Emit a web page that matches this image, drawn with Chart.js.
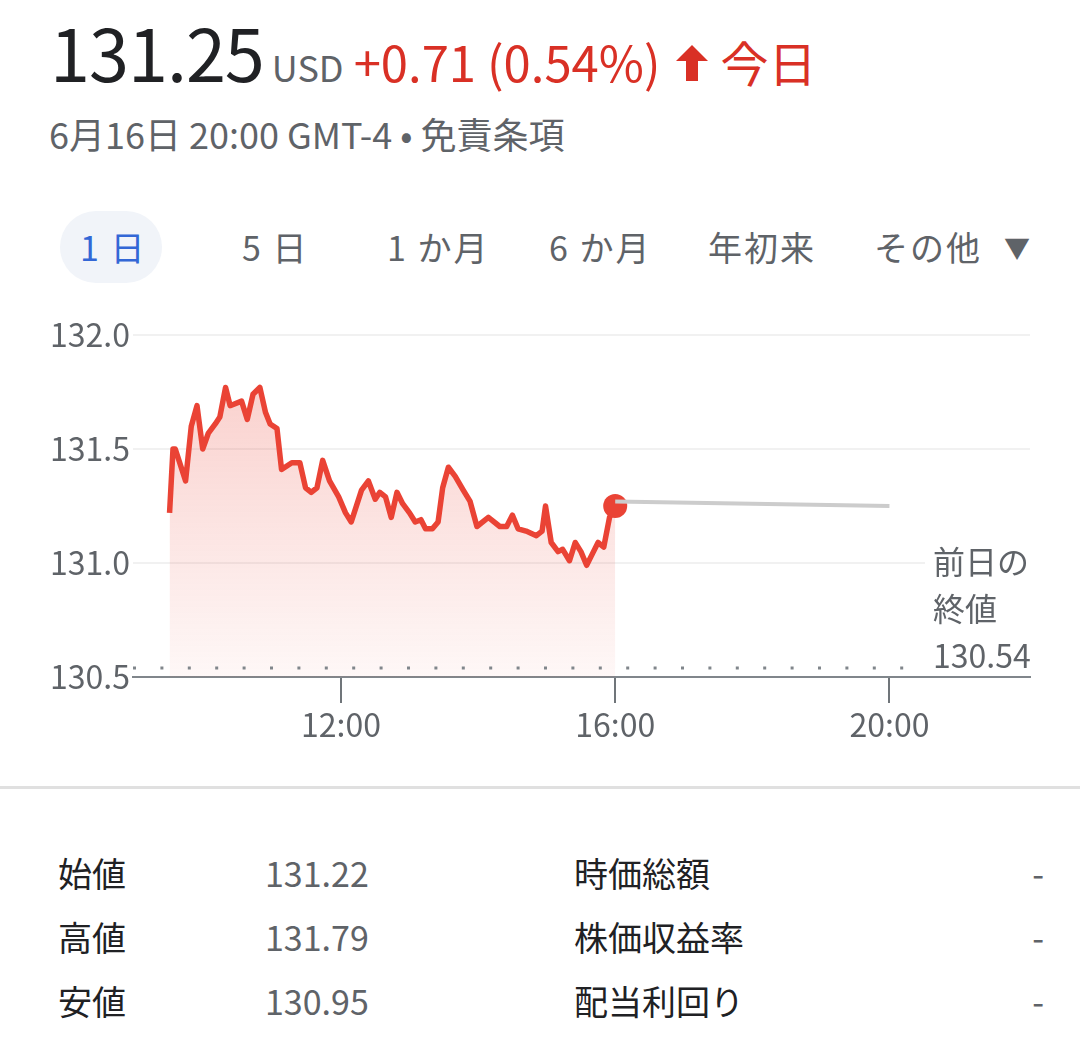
<!DOCTYPE html>
<html lang="ja">
<head>
<meta charset="utf-8">
<script src="https://cdn.jsdelivr.net/npm/chart.js@4.4.1/dist/chart.umd.min.js"></script>
<style>
  body {
    margin: 0;
    width: 1080px;
    height: 1038px;
    background: #fff;
    position: relative;
    overflow: hidden;
    font-family: "Noto Sans CJK JP", "Noto Sans", sans-serif;
    color: #202124;
  }
  .abs { position: absolute; white-space: nowrap; }
  #head { left: 50px; top: 15px; line-height: 72px; font-size: 72px; letter-spacing: -1px; }
  #head span { vertical-align: baseline; }
  .usd { font-size: 36px; color: #5f6368; margin-left: 8px; letter-spacing: 0; }
  .chg { font-size: 49px; color: #d93025; margin-left: 10px; letter-spacing: 0; }
  .today { font-size: 48px; color: #d93025; margin-left: 10px; letter-spacing: 0; }
  #sub { left: 49px; top: 115px; font-size: 36px; line-height: 36px; color: #5f6368; }
  .tab { top: 230px; font-size: 34px; line-height: 34px; color: #5f6368; letter-spacing: 2px; }
  #pill { left: 60px; top: 211px; width: 102px; height: 72px; border-radius: 36px; background: #f1f4f9; }
  #chartBox { left: 0; top: 290px; width: 1080px; height: 480px; }
  #prev { left: 925px; top: 537px; width: 115px; height: 136px; background: #fff; padding-left: 8px;
          font-size: 32px; line-height: 47px; color: #5f6368; white-space: normal; }
  #sep { left: 0; top: 786px; width: 1080px; height: 3px; background: #e0e0e0; }
  .row { font-size: 34px; line-height: 34px; }
  .lab { color: #202124; }
  .val { color: #5f6368; }
</style>
</head>
<body>
<div class="abs" id="head"><span>131.25</span><span class="usd">USD</span><span class="chg">+0.71 (0.54%)</span><svg width="36" height="40" viewBox="0 0 36 40" style="margin-left:14px;vertical-align:-1px"><path d="M18 2 L34 18 L24 18 L24 38 L12 38 L12 18 L2 18 Z" fill="#d93025"/></svg><span class="today">今日</span></div>
<div class="abs" id="sub">6月16日 20:00 GMT-4 • 免責条項</div>

<div class="abs" id="pill"></div>
<div class="abs tab" style="left:80px;color:#3367d6">1 日</div>
<div class="abs tab" style="left:242px">5 日</div>
<div class="abs tab" style="left:387px">1 か月</div>
<div class="abs tab" style="left:549px">6 か月</div>
<div class="abs tab" style="left:708px">年初来</div>
<div class="abs tab" style="left:874px">その他</div>
<div class="abs tab" style="left:1004px;font-size:26px;">▼</div>

<div class="abs" id="chartBox"><canvas id="chart" width="1080" height="480"></canvas></div>
<div class="abs" id="prev">前日の<br>終値<br>130.54</div>

<div class="abs" id="sep"></div>

<div class="abs row lab" style="left:58px;top:856px">始値</div>
<div class="abs row val" style="left:265px;top:856px">131.22</div>
<div class="abs row lab" style="left:574px;top:856px">時価総額</div>
<div class="abs row val" style="right:36px;top:856px">-</div>
<div class="abs row lab" style="left:58px;top:920px">高値</div>
<div class="abs row val" style="left:265px;top:920px">131.79</div>
<div class="abs row lab" style="left:574px;top:920px">株価収益率</div>
<div class="abs row val" style="right:36px;top:920px">-</div>
<div class="abs row lab" style="left:58px;top:984px">安値</div>
<div class="abs row val" style="left:265px;top:984px">130.95</div>
<div class="abs row lab" style="left:574px;top:984px">配当利回り</div>
<div class="abs row val" style="right:36px;top:984px">-</div>

<script>
// minutes since midnight, regular session
const times = [570,573,575,584,589,594,599,604,610,614,619,623,633,638,643,649,654,658,664,668,
  677,684,689,694,699,704,710,718,724,729,738,744,750,754,759,764,769,774,780,785,
  790,794,800,805,809,814,820,827,833,839,849,859,865,870,875,882,891,896,899,904,
  910,914,920,925,930,935,940,945,950,955,960];
const prices = [131.22,131.50,131.50,131.36,131.60,131.69,131.50,131.57,131.61,131.64,131.77,131.69,131.71,131.63,131.74,131.77,131.66,131.61,131.59,131.41,
  131.44,131.44,131.33,131.31,131.33,131.45,131.36,131.29,131.22,131.18,131.32,131.36,131.28,131.31,131.29,131.20,131.31,131.26,131.22,131.18,
  131.19,131.15,131.15,131.18,131.33,131.42,131.38,131.32,131.27,131.16,131.20,131.16,131.16,131.21,131.15,131.14,131.12,131.14,131.25,131.09,
  131.05,131.06,131.01,131.09,131.05,130.99,131.04,131.09,131.07,131.20,131.25];

// after hours
const afterTimes = [960, 1200];
const afterPrices = [131.27, 131.25];

const prevClose = 130.54;
const xRange = [538, 1323];
const yTicks = [130.5, 131.0, 131.5, 132.0];
const xTicks = [720, 960, 1200];
const xTickLabels = ["12:00", "16:00", "20:00"];

const red = "#ea4335";
const font = "'Noto Sans CJK JP', 'Noto Sans', sans-serif";

const mainData = times.map((t, i) => ({ x: t, y: prices[i] }));
const afterData = afterTimes.map((t, i) => ({ x: t, y: afterPrices[i] }));
const prevData = xRange.map(t => ({ x: t, y: prevClose }));

const ctx = document.getElementById("chart");
new Chart(ctx, {
  type: "line",
  data: {
    datasets: [
      {
        data: afterData,
        borderColor: "#cccccc",
        borderWidth: 4,
        pointRadius: 0,
        fill: false,
      },
      {
        data: prevData,
        borderColor: "#80868b",
        borderWidth: 3,
        borderDash: [3, 24.4],
        pointRadius: 0,
        fill: false,
      },
      {
        data: mainData,
        borderColor: red,
        borderWidth: 5.5,
        borderJoinStyle: "round",
        tension: 0,
        fill: "start",
        backgroundColor: (c) => {
          const a = c.chart.chartArea;
          if (!a) return "rgba(234,67,53,0.15)";
          const g = c.chart.ctx.createLinearGradient(0, a.top, 0, a.bottom);
          g.addColorStop(0, "rgba(234,67,53,0.28)");
          g.addColorStop(1, "rgba(234,67,53,0.04)");
          return g;
        },
        pointRadius: (c) => (c.dataIndex === prices.length - 1 ? 12 : 0),
        pointBackgroundColor: red,
        pointBorderWidth: 0,
      },
    ],
  },
  options: {
    responsive: false,
    animation: false,
    layout: { padding: { top: 45, right: 50, left: 0, bottom: 0 } },
    plugins: { legend: { display: false }, tooltip: { enabled: false } },
    scales: {
      x: {
        type: "linear",
        min: xRange[0],
        max: xRange[1],
        afterFit: (s) => { s.height = 93; },
        afterBuildTicks: (s) => { s.ticks = xTicks.map(v => ({ value: v })); },
        grid: { drawOnChartArea: false, drawTicks: true, tickLength: 26, color: "#70757a", lineWidth: 2 },
        border: { display: true, color: "#80868b", width: 2 },
        ticks: {
          padding: 3,
          maxRotation: 0,
          color: "#5f6368",
          font: { family: font, size: 32 },
          callback: (v, i) => xTickLabels[i],
        },
      },
      y: {
        min: yTicks[0],
        max: yTicks[yTicks.length - 1],
        afterFit: (s) => { s.width = 133; },
        afterBuildTicks: (s) => { s.ticks = yTicks.map(v => ({ value: v })); },
        grid: { color: "#f1f1f1", lineWidth: 2, drawTicks: false },
        border: { display: false },
        ticks: {
          padding: 3,
          color: "#5f6368",
          font: { family: font, size: 32 },
          callback: (v) => v.toFixed(1),
        },
      },
    },
  },
});
</script>
</body>
</html>
